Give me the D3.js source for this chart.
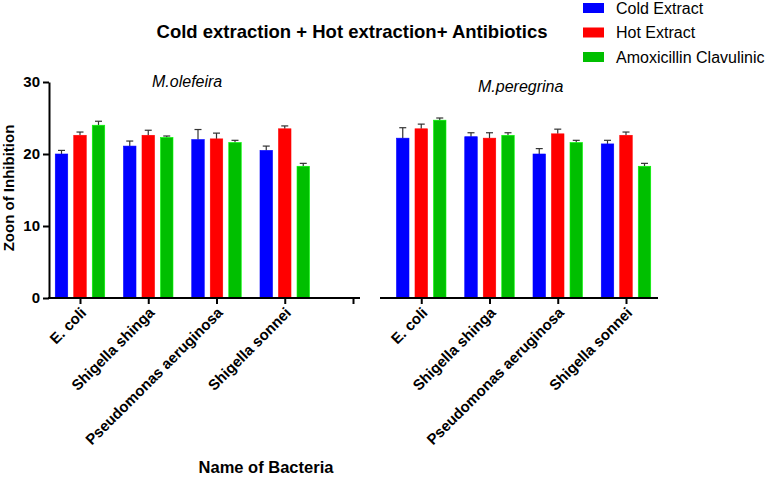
<!DOCTYPE html>
<html>
<head>
<meta charset="utf-8">
<script src="https://cdn.jsdelivr.net/npm/d3@7"></script>
<style>
  body { margin: 0; background: #fff; }
  text { font-family: Arial, "Liberation Sans", sans-serif; }
</style>
</head>
<body>
<div id="chart"></div>
<script>
// data
const bacteria = ["E. coli", "Shigella shinga", "Pseudomonas aeruginosa", "Shigella sonnei"]
const plants = ["M.olefeira", "M.peregrina"]
const seriesNames = ["Cold Extract", "Hot Extract", "Amoxicillin Clavulinic"]
const seriesColors = ["#0000ff", "#ff0000", "#00bf00"]

// values per plant, per bacteria: [cold, hot, amox]
const oleifeiraMeans = [[20.0, 22.6, 24.0], [21.1, 22.6, 22.3], [22.0, 22.1, 21.6], [20.5, 23.5, 18.3]]
const oleifeiraErr = [[0.5, 0.45, 0.55], [0.7, 0.7, 0.2], [1.4, 0.8, 0.3], [0.6, 0.4, 0.4]]
const peregrinaMeans = [[22.2, 23.5, 24.7], [22.4, 22.2, 22.6], [20.0, 22.8, 21.6], [21.4, 22.6, 18.3]]
const peregrinaErr = [[1.45, 0.65, 0.3], [0.55, 0.75, 0.35], [0.75, 0.65, 0.3], [0.5, 0.45, 0.4]]

const yTicks = [0, 10, 20, 30]

const W = 767, H = 483
const svg = d3.select('#chart').append('svg')
    .attr('width', W)
    .attr('height', H)

// category keys: 4 + gap + 4
const keys = []
bacteria.forEach(b => keys.push("A|" + b))
keys.push("gap")
bacteria.forEach(b => keys.push("B|" + b))

const x = d3.scalePoint().domain(keys).range([80, 626])
const y = d3.scaleLinear().domain([0, 30]).range([298, 82])
const off = d3.scalePoint().domain(seriesNames).range([-18.5, 18.5])
const barW = 12.5

// flatten into one list of bars
const bars = []
bacteria.forEach((b, i) => {
    seriesNames.forEach((s, j) => {
        bars.push({key: "A|" + b, s: s, c: seriesColors[j], v: oleifeiraMeans[i][j], e: oleifeiraErr[i][j]})
        bars.push({key: "B|" + b, s: s, c: seriesColors[j], v: peregrinaMeans[i][j], e: peregrinaErr[i][j]})
    })
})

const g = svg.append('g')

// error bars first (behind bars)
const eb = g.selectAll('.eb').data(bars).join('g').attr('class', 'eb')
    .attr('stroke', '#333').attr('stroke-width', 1.2)
eb.append('line')
    .attr('x1', d => x(d.key) + off(d.s)).attr('x2', d => x(d.key) + off(d.s))
    .attr('y1', d => y(d.v)).attr('y2', d => y(d.v + d.e))
eb.append('line')
    .attr('x1', d => x(d.key) + off(d.s) - 3.5).attr('x2', d => x(d.key) + off(d.s) + 3.5)
    .attr('y1', d => y(d.v + d.e)).attr('y2', d => y(d.v + d.e))

g.selectAll('.bar').data(bars).join('rect').attr('class', 'bar')
    .attr('x', d => x(d.key) + off(d.s) - barW / 2)
    .attr('width', barW)
    .attr('y', d => y(d.v))
    .attr('height', d => y(0) - y(d.v))
    .attr('fill', d => d.c)
    .attr('stroke', d => d3.color(d.c).brighter(1.2))
    .attr('stroke-width', 0.6)

// y axis
const yAxis = svg.append('g')
    .attr('transform', 'translate(49,0)')
    .call(d3.axisLeft(y).tickValues(yTicks).tickSize(6).tickSizeOuter(0).tickPadding(3))
yAxis.select('.domain').attr('stroke-width', 2)
yAxis.selectAll('.tick line').attr('stroke-width', 2)
yAxis.selectAll('.tick text').attr('font-size', 15).attr('font-weight', 'bold').attr('fill', '#000')

// x axis
const xAxis = svg.append('g')
    .attr('transform', 'translate(0,298)')
    .call(d3.axisBottom(x).tickSize(6).tickFormat(d => d === "gap" ? "" : d.split("|")[1]))
xAxis.select('.domain').remove()
xAxis.selectAll('.tick line').attr('stroke-width', 2)
xAxis.selectAll('.tick text')
    .attr('font-size', 15).attr('font-weight', 'bold').attr('fill', '#000')
    .attr('text-anchor', 'end')
    .attr('transform', 'translate(3,12) rotate(-45)')
    .attr('dy', '0.35em').attr('y', 0).attr('x', 0)
xAxis.append('line').attr('x1', 48).attr('x2', 360).attr('stroke', '#000').attr('stroke-width', 2)
xAxis.append('line').attr('x1', 380).attr('x2', 658).attr('stroke', '#000').attr('stroke-width', 2)

// title
svg.append('text').attr('x', 352).attr('y', 38).attr('text-anchor', 'middle')
    .attr('font-size', 18.5).attr('font-weight', 'bold')
    .text('Cold extraction + Hot extraction+ Antibiotics')

// plant names
svg.append('text').attr('x', 152).attr('y', 87).attr('font-size', 16).attr('font-style', 'italic').text(plants[0])
svg.append('text').attr('x', 478).attr('y', 92).attr('font-size', 16).attr('font-style', 'italic').text(plants[1])

// axis titles
svg.append('text').attr('transform', 'translate(14,188) rotate(-90)').attr('text-anchor', 'middle')
    .attr('font-size', 15).attr('font-weight', 'bold').text('Zoon of Inhibition')
svg.append('text').attr('x', 266).attr('y', 473).attr('text-anchor', 'middle')
    .attr('font-size', 16.5).attr('font-weight', 'bold').text('Name of Bacteria')

// legend
const leg = svg.append('g').attr('transform', 'translate(583,3)')
const li = leg.selectAll('g').data(seriesNames).join('g')
    .attr('transform', (d, i) => `translate(0,${i * 24.5})`)
li.append('rect').attr('width', 21).attr('height', 10).attr('fill', (d, i) => seriesColors[i])
li.append('text').attr('x', 33).attr('y', 10.5).attr('font-size', 16).text(d => d)
</script>
</body>
</html>
